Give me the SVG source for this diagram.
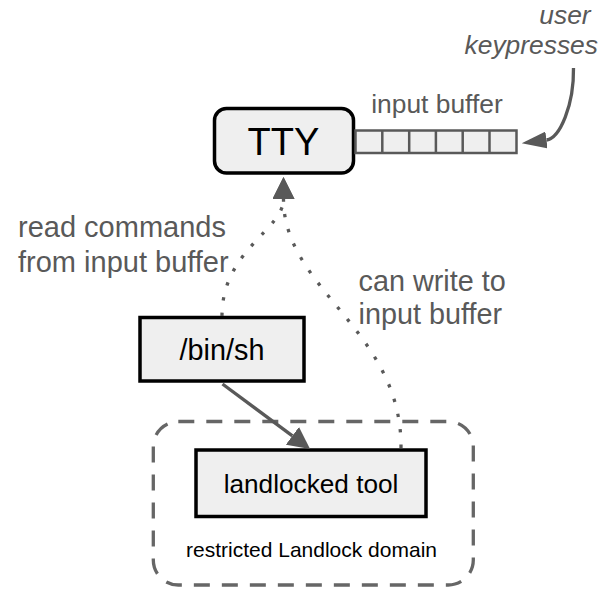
<svg xmlns="http://www.w3.org/2000/svg" width="611" height="590" viewBox="0 0 611 590">
  <style>
    text { font-family: "Liberation Sans", Arial, sans-serif; }
    .box { fill: #efefef; stroke: #000; stroke-width: 3.5; }
    .name { fill: #000; text-anchor: middle; }
    .note { fill: #595959; }
    .cell { fill: #efefef; stroke: #595959; stroke-width: 2.5; }
    .wire { fill: none; stroke: #595959; stroke-width: 3.3; }
    .dotted { stroke-dasharray: 3.3 12.2; }
    .domain { fill: none; stroke: #666; stroke-width: 3.3; stroke-dasharray: 16 12; }
  </style>
  <defs>
    <marker id="head" markerUnits="userSpaceOnUse" viewBox="0 0 22 22" markerWidth="22" markerHeight="22" refX="0" refY="11" orient="auto">
      <path d="M0,0 L22,11 L0,22 Z" fill="#595959"/>
    </marker>
    <marker id="head-long" markerUnits="userSpaceOnUse" viewBox="0 0 25 17" markerWidth="25" markerHeight="17" refX="0" refY="8.5" orient="auto">
      <path d="M0,0 L25,8.5 L0,17 Z" fill="#595959"/>
    </marker>
  </defs>

  <!-- sandbox boundary -->
  <g id="domain">
    <rect class="domain" x="153.3" y="421.5" width="320" height="163.5" rx="25"/>
    <text class="name" x="311.5" y="556.5" font-size="21">restricted Landlock domain</text>
  </g>

  <!-- terminal with its input queue -->
  <g id="tty">
    <rect class="box" x="214.5" y="108.5" width="139" height="64.5" rx="12"/>
    <text class="name" x="283.5" y="155" font-size="38">TTY</text>
  </g>
  <g id="input-buffer">
    <rect class="cell" x="355.5" y="130.5" width="161" height="22.5"/>
    <path class="cell" d="M382.3,130.5 V153 M409.2,130.5 V153 M435.9,130.5 V153 M462.7,130.5 V153 M489.5,130.5 V153"/>
    <text class="note" x="437" y="113.3" font-size="26.4" text-anchor="middle">input buffer</text>
  </g>

  <g id="sh">
    <rect class="box" x="140" y="317.5" width="164" height="63.5"/>
    <text class="name" x="222" y="360" font-size="28.8">/bin/sh</text>
  </g>

  <g id="tool">
    <rect class="box" x="196" y="450" width="230" height="66.5"/>
    <text class="name" x="311" y="492.7" font-size="26.2">landlocked tool</text>
  </g>

  <g id="connectors">
    <!-- keyboard input arriving at the end of the queue -->
    <path class="wire" stroke-width="3.6" d="M573.5,68 C574,105 560,138.2 546.5,140" marker-end="url(#head-long)"/>
    <!-- shell reads from the tty -->
    <path class="wire dotted" d="M222,316 C222,250 283.5,230 283.5,199" marker-end="url(#head)"/>
    <!-- sandboxed tool writes to the tty -->
    <path class="wire dotted" d="M401,448 C402,330 283.5,290 283.5,199" marker-end="url(#head)"/>
    <!-- shell launches the tool -->
    <path class="wire" d="M222.5,384 L292.4,435.8" marker-end="url(#head)"/>
  </g>

  <g id="labels">
    <text class="note" font-size="26.4" font-style="italic" text-anchor="end">
      <tspan x="598" y="23.5">user</tspan>
      <tspan x="598" y="54">keypresses</tspan>
    </text>
    <text class="note" font-size="29">
      <tspan x="18" y="237">read commands</tspan>
      <tspan x="18" y="271.5">from input buffer</tspan>
    </text>
    <text class="note" font-size="28.8">
      <tspan x="358.5" y="290.7">can write to</tspan>
      <tspan x="358.5" y="324">input buffer</tspan>
    </text>
  </g>
</svg>
